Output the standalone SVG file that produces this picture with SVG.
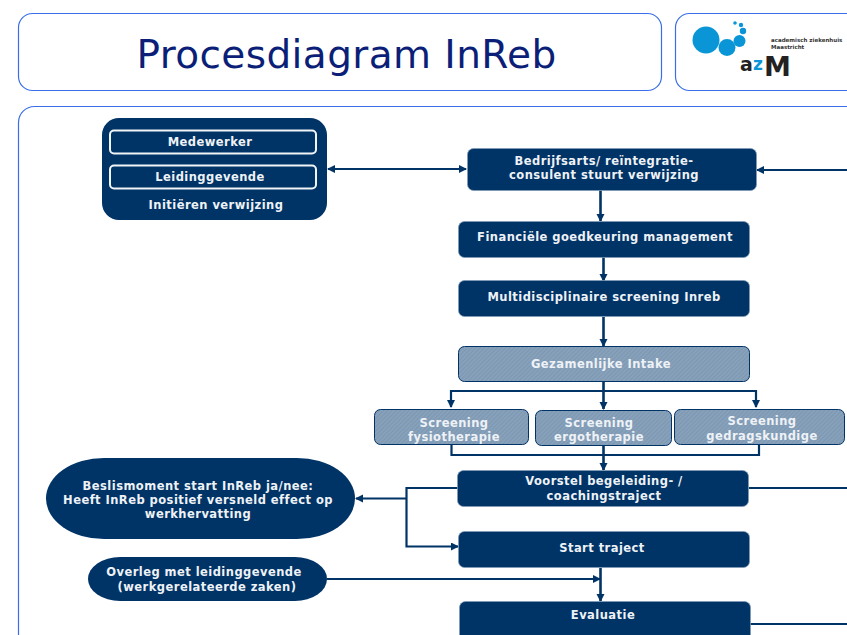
<svg xmlns="http://www.w3.org/2000/svg" width="847" height="635" viewBox="0 0 847 635">
<style>
.panel{fill:#fff;stroke:#3a6ee8;stroke-width:1.2}
.d{fill:#003366;stroke:#7f9ab5;stroke-width:.8}
.h{fill:url(#hatch);stroke:#003366;stroke-width:1}
text{font-family:"DejaVu Sans",Verdana,sans-serif;font-weight:bold;font-size:11.5px;letter-spacing:.45px;fill:#eef2f6;text-anchor:middle}
.c{fill:none;stroke:#003366;stroke-width:2.600}
.thin{fill:none;stroke:#003366;stroke-width:2.200}
</style>
<defs>
<pattern id="hatch" width="3" height="3" patternUnits="userSpaceOnUse" patternTransform="rotate(45)">
<rect width="3" height="3" fill="#88a1ba"/><rect width="1" height="3" fill="#7c97b2"/>
</pattern>
<marker id="a" markerWidth="9" markerHeight="9" refX="7" refY="4" orient="auto" markerUnits="userSpaceOnUse"><path d="M0 0L8 4L0 8Z" fill="#003366"/></marker>
</defs>
<g id="title">
<rect class="panel" x="18.500" y="13.500" width="643" height="77" rx="14"/>
<text x="346.500" y="68" style="font-size:39px;font-weight:normal;letter-spacing:.4px;fill:#0b1f78">Procesdiagram InReb</text>
</g>
<g id="logo">
<rect class="panel" x="675.500" y="13.500" width="190" height="77" rx="14"/>
<g fill="#0a96d6">
<circle cx="706" cy="40" r="13.500"/><circle cx="727" cy="47.500" r="8.500"/><circle cx="739.500" cy="41" r="6"/><circle cx="743" cy="31" r="3.200"/><circle cx="741" cy="25" r="2.200"/><circle cx="735" cy="23" r="1.800"/>
</g>
<text x="771" y="42" style="font-size:5.500px;letter-spacing:0;fill:#333;text-anchor:start">academisch ziekenhuis</text>
<text x="771" y="49" style="font-size:5.500px;letter-spacing:0;fill:#333;text-anchor:start">Maastricht</text>
<text x="740" y="71" style="font-size:19px;letter-spacing:0;fill:#222;text-anchor:start">a</text>
<text x="753" y="70" style="font-size:17px;letter-spacing:0;fill:#0a96d6;text-anchor:start">z</text>
<text x="764" y="76" style="font-size:27px;letter-spacing:0;fill:#222;text-anchor:start">M</text>
</g>
<rect id="main-panel" class="panel" x="18.500" y="106.500" width="850" height="560" rx="16"/>
<g id="connectors">
<path class="thin" d="M847 170H757" marker-end="url(#a)"/>
<path class="thin" d="M400 169H328" marker-end="url(#a)"/>
<path class="thin" d="M340 169H466" marker-end="url(#a)"/>
<path class="c" d="M600.500 190V221" marker-end="url(#a)"/>
<path class="c" d="M603.500 257V281" marker-end="url(#a)"/>
<path class="c" d="M603.500 317V346" marker-end="url(#a)"/>
<path class="c" d="M603.500 381V409" marker-end="url(#a)"/>
<path class="thin" d="M603.500 391H451V407" marker-end="url(#a)"/>
<path class="thin" d="M603.500 391H756V407" marker-end="url(#a)"/>
<path class="thin" d="M451.500 445V455H759V445"/>
<path class="c" d="M603.500 446V470" marker-end="url(#a)"/>
<path class="thin" d="M458 488H406.500V546.500H458" marker-end="url(#a)"/>
<path class="thin" d="M406 498.500H356" marker-end="url(#a)"/>
<path class="thin" d="M749 488H847"/>
<path class="thin" d="M327 579H600" marker-end="url(#a)"/>
<path class="c" d="M600.500 568V601" marker-end="url(#a)"/>
<path class="thin" d="M750 624H847"/>
</g>
<g id="initieren">
<rect x="102" y="118" width="225" height="102" rx="17" fill="#003366"/>
<rect x="110" y="130.500" width="206" height="23" rx="4" fill="#003366" stroke="#f2f5f8" stroke-width="2"/>
<rect x="110" y="165.500" width="206" height="23" rx="4" fill="#003366" stroke="#f2f5f8" stroke-width="2"/>
<text x="210" y="146">Medewerker</text>
<text x="210" y="181">Leidinggevende</text>
<text x="216" y="209">Initiëren verwijzing</text>
</g>
<g id="bedrijfsarts"><rect class="d" x="467.500" y="148.500" width="289" height="42" rx="6"/><text x="604" y="165">Bedrijfsarts/ reïntegratie-</text><text x="604" y="179">consulent stuurt verwijzing</text></g>
<g id="financieel"><rect class="d" x="458.500" y="221.500" width="291" height="36" rx="6"/><text x="605" y="241">Financiële goedkeuring management</text></g>
<g id="multi"><rect class="d" x="458.500" y="280.500" width="291" height="36" rx="6"/><text x="604" y="301">Multidisciplinaire screening Inreb</text></g>
<g id="intake"><rect class="h" x="458.500" y="346.500" width="291" height="35" rx="6"/><text x="601" y="368">Gezamenlijke Intake</text></g>
<g id="fysio"><rect class="h" x="374.500" y="409.500" width="154" height="35" rx="6"/><text x="454" y="427">Screening</text><text x="454" y="441">fysiotherapie</text></g>
<g id="ergo"><rect class="h" x="535.500" y="410.500" width="136" height="35" rx="6"/><text x="599" y="427">Screening</text><text x="599" y="441">ergotherapie</text></g>
<g id="gedrag"><rect class="h" x="674.500" y="409.500" width="170" height="35" rx="6"/><text x="762" y="425">Screening</text><text x="762" y="440">gedragskundige</text></g>
<g id="voorstel"><rect class="d" x="457.500" y="470.500" width="291" height="36" rx="6"/><text x="604" y="485">Voorstel begeleiding- /</text><text x="604" y="500">coachingstraject</text></g>
<g id="start"><rect class="d" x="458.500" y="531.500" width="291" height="36" rx="6"/><text x="602" y="552">Start traject</text></g>
<g id="evaluatie"><rect class="d" x="459.500" y="601.500" width="291" height="40" rx="6"/><text x="603" y="619">Evaluatie</text></g>
<g id="beslismoment"><rect x="46" y="458" width="309" height="81" rx="58" ry="40.500" fill="#003366"/><text x="198" y="490">Beslismoment start InReb ja/nee:</text><text x="198" y="504">Heeft InReb positief versneld effect op</text><text x="198" y="518">werkhervatting</text></g>
<g id="overleg"><rect x="88" y="557" width="239" height="44" rx="32" ry="22" fill="#003366"/><text x="204" y="576">Overleg met leidinggevende</text><text x="207" y="591">(werkgerelateerde zaken)</text></g>
</svg>
